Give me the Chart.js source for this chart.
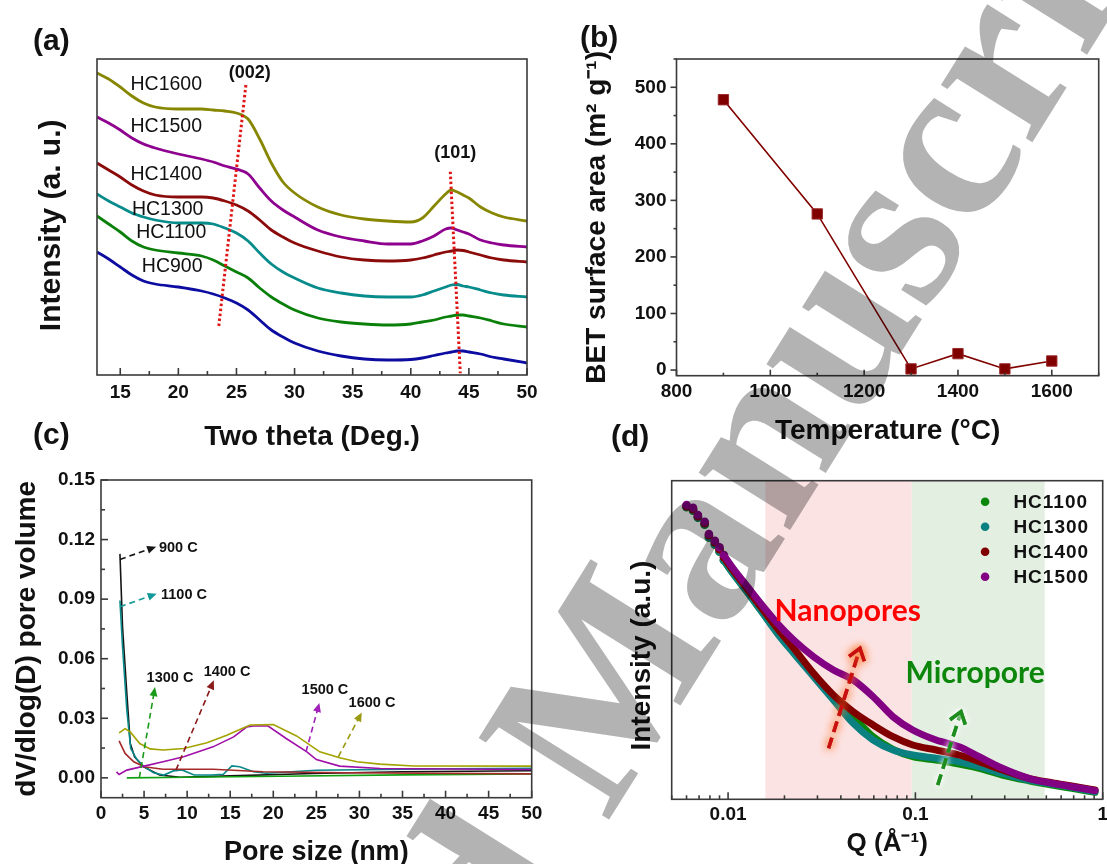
<!DOCTYPE html>
<html>
<head>
<meta charset="utf-8">
<title>Hard carbon characterisation</title>
<script src="https://cdn.jsdelivr.net/npm/chart.js"></script>
<style>
  html, body { margin: 0; padding: 0; background: #fff; }
  #fig { position: relative; width: 1107px; height: 864px; overflow: hidden; background: #fff; }
  .panel { position: absolute; }
  .panel canvas { display: block; }
  .tag { position: absolute; font: bold 30px "Liberation Sans", Arial, sans-serif; color: #111; line-height: 1; }
  #mark { position: absolute; left: 0; top: 0; pointer-events: none; mix-blend-mode: multiply; }
</style>
</head>
<body>
<div id="fig">
  <div class="panel" style="left:0;top:0"><canvas id="chartXrd" width="553" height="460"></canvas></div>
  <div class="panel" style="left:553px;top:0"><canvas id="chartBet" width="554" height="460"></canvas></div>
  <div class="panel" style="left:0;top:460px"><canvas id="chartPore" width="553" height="404"></canvas></div>
  <div class="panel" style="left:553px;top:460px"><canvas id="chartSaxs" width="554" height="404"></canvas></div>

  <div class="tag" style="left:33px;top:25px">(a)</div>
  <div class="tag" style="left:580px;top:22px">(b)</div>
  <div class="tag" style="left:33px;top:419px">(c)</div>
  <div class="tag" style="left:611px;top:421px">(d)</div>

  <svg id="mark" width="1107" height="864" viewBox="0 0 1107 864">
    <g transform="translate(607 823) rotate(-58)" font-family="'Liberation Serif', 'DejaVu Serif', serif" font-weight="bold" font-size="235" fill="#b3b3b3">
      <text x="-59" y="0" text-anchor="end">Accepted</text>
      <text x="0" y="0">Manuscript</text>
    </g>
  </svg>
</div>

<script>
// ---------------- (a) XRD patterns, intensity offset per sample ----------------
const xrdTheta = [13, 14, 15, 16, 17, 18, 20, 22, 23, 24, 25, 26, 27, 28, 29, 30, 32, 34, 36, 38, 40, 41, 42, 43, 43.5, 44, 44.5, 45, 46, 47, 48, 50];
const xrdHC1600 = [302, 296, 288, 279, 272, 268, 266, 266, 265, 264, 262, 256, 236, 212, 193, 182, 168, 160, 156, 154, 153, 157, 169, 181, 185, 183, 180, 177, 168, 162, 158, 154];
const xrdHC1500 = [258, 252, 245, 237, 231, 227, 221, 216, 213, 209, 206, 201, 187, 174, 165, 158, 145, 138, 134, 131, 131, 134, 139, 146, 147, 145, 143, 141, 135, 132, 130, 128];
const xrdHC1400 = [212, 205, 198, 190, 184, 180, 178, 178, 177, 174, 170, 164, 155, 145, 138, 132, 124, 118, 115, 114, 115, 117, 120, 123, 124, 125, 124.5, 123, 120, 117, 115, 113];
const xrdHC1300 = [181, 174, 168, 162, 158, 155, 152, 152, 151, 147, 142, 134, 122, 111, 103, 97, 87, 82, 79, 78, 78, 80, 84, 88, 90, 90.5, 89, 88, 85, 82, 80, 78];
const xrdHC1100 = [159, 151, 143, 134, 128, 125, 122, 119, 115, 109, 103, 97, 87, 78, 71, 65, 57, 53, 51, 50, 51, 53, 55, 58, 59, 60, 60, 59, 57, 54, 51, 48];
const xrdHC900  = [123, 116, 108, 100, 94, 91, 88, 84, 81, 77, 72, 65, 55, 45, 38, 32, 24, 19, 16, 15, 15.5, 17, 19.5, 22, 23, 24, 24, 23, 21, 18, 16, 12];
const xrdSamples = ['HC1600', 'HC1500', 'HC1400', 'HC1300', 'HC1100', 'HC900'];
const xrdLabelTheta = [18.96, 18.96, 18.96, 19.08, 19.39, 19.47];
const xrdLabelLevel = [290, 248, 200, 165, 142, 108];
// guide lines through the (002) and (101) reflections
const peak002Theta = [25.81, 23.46];
const peak002Level = [290, 46.7];
const peak101Theta = [43.40, 44.26];
const peak101Level = [203.3, 1.7];
const peakNames = ['(002)', '(101)'];
const peakNameTheta = [26.14, 43.83];
const peakNameLevel = [302, 222];

// ---------------- (b) BET surface area ----------------
const betTemp = [900, 1100, 1300, 1400, 1500, 1600];
const betArea = [478, 276, 2, 29, 2, 16];

// ---------------- (c) pore size distribution ----------------
const pore900X  = [2.2, 2.5, 3.0, 3.4, 3.9, 4.9, 6.8, 9.2, 15, 24.6, 35, 50];
const pore900Y  = [0.1128, 0.0759, 0.0424, 0.0173, 0.0106, 0.0056, 0.0014, 0.0003, 0.0010, 0.0022, 0.0031, 0.0036];
const pore1100X = [2.2, 2.5, 3.0, 3.45, 4.1, 5.0, 6.1, 7.3, 8.4, 9.4, 10.8, 12.8, 14.2, 15.2, 16.1, 17.7, 19.2, 25, 36, 50];
const pore1100Y = [0.0893, 0.066, 0.034, 0.0148, 0.0097, 0.0056, 0.0026, 0.0014, 0.0035, 0.004, 0.0014, 0.0014, 0.0018, 0.006, 0.0056, 0.0031, 0.0023, 0.0038, 0.0044, 0.0048];
const pore1300X = [3.0, 10, 20.8, 35, 50];
const pore1300Y = [0.0, 0.0003, 0.0008, 0.0015, 0.002];
const pore1400X = [2.1, 2.8, 3.8, 5.0, 7.2, 13, 18.8, 28.5, 50];
const pore1400Y = [0.0186, 0.0123, 0.0081, 0.0056, 0.0043, 0.0043, 0.0031, 0.0026, 0.002];
const pore1500X = [1.8, 2.1, 3.0, 5.0, 7.2, 9.6, 13.0, 15.4, 16.9, 17.7, 19.4, 21.5, 23.9, 25.0, 27.7, 32.4, 50];
const pore1500Y = [0.003, 0.0017, 0.0039, 0.0059, 0.0081, 0.0106, 0.0156, 0.0206, 0.0256, 0.0261, 0.0261, 0.0198, 0.0131, 0.0092, 0.0059, 0.0047, 0.0042];
const pore1600X = [2.1, 2.8, 3.4, 4.5, 5.7, 7.2, 9.6, 12.3, 14.6, 17.3, 20.0, 22.7, 25.4, 27.7, 29.7, 32.4, 36.3, 50];
const pore1600Y = [0.0226, 0.0248, 0.0231, 0.0173, 0.0146, 0.014, 0.0148, 0.0177, 0.0215, 0.0266, 0.0269, 0.0211, 0.0131, 0.0101, 0.0081, 0.0069, 0.006, 0.0059];
const poreNames = ['900 C', '1100 C', '1300 C', '1400 C', '1500 C', '1600 C'];
const poreNameX = [6.73, 6.97, 8.01, 14.63, 26.0, 31.46];
const poreNameY = [0.1159, 0.0923, 0.0501, 0.0531, 0.0441, 0.0377];
const poreArrowFromX = [2.2, 2.2, 4.45, 8.7, 23.8, 27.55];
const poreArrowFromY = [0.110, 0.0862, 0.0, 0.0039, 0.0131, 0.0106];
const poreArrowToX = [6.4, 6.47, 6.27, 13.1, 25.35, 30.27];
const poreArrowToY = [0.1164, 0.0927, 0.0457, 0.0491, 0.0377, 0.0329];

// ---------------- (d) SAXS profiles ----------------
const saxsQ = [0.006, 0.0065, 0.0069, 0.0075, 0.0079, 0.0085, 0.009, 0.0095, 0.0108, 0.0127, 0.0149, 0.0183, 0.0224, 0.0286, 0.0365, 0.0466, 0.0595, 0.0759, 0.0968, 0.129, 0.171, 0.219, 0.291, 0.403, 0.536, 0.684, 0.91];
const saxsHC1100 = [292, 288.5, 281.5, 274.5, 261.5, 254.5, 247.5, 239, 224, 207, 189.3, 167, 147, 124, 101, 82.6, 62.6, 50, 42.6, 39.3, 35.3, 31, 24.3, 18.6, 14.3, 11, 7];
const saxsHC1300 = [292.6, 289, 282, 275, 262, 255, 248, 239.3, 224, 207, 189.3, 166, 146, 122.6, 99.3, 76, 59.3, 49.3, 44.3, 41, 37.6, 32.6, 26, 19.3, 15.3, 12, 7.6];
const saxsHC1400 = [293, 290, 283, 276, 264, 257, 250, 242, 227, 210, 192.6, 171, 151, 126, 104.3, 87.6, 74.3, 62.6, 54.3, 49.3, 44.3, 37.6, 29.3, 21, 16.6, 13.3, 9.3];
const saxsHC1500 = [294.3, 291.6, 284.3, 277.6, 265.3, 258.6, 252, 244.3, 229.3, 212.6, 196, 176, 159.3, 142.6, 129.3, 119.3, 102.6, 82.6, 69.3, 59.3, 52.6, 42.6, 31, 21, 16, 12.6, 8.6];
const saxsSamples = ['HC1100', 'HC1300', 'HC1400', 'HC1500'];
const saxsTickValues = [0.01, 0.1, 1];
const saxsTickLabels = ['0.01', '0.1', '1'];
// Q ranges of the nanopore and micropore scattering regions
const nanoporeRange = [0.0158, 0.0957];
const microporeRange = [0.0957, 0.49];
const saxsNotes = ['Nanopores', 'Micropore'];
const saxsNoteQ = [0.0435, 0.2085];
const saxsNoteLevel = [187.6, 126];
const saxsArrowFromQ = [0.0344, 0.1316];
const saxsArrowFromLevel = [51, 14.3];
const saxsArrowToQ = [0.0506, 0.1752];
const saxsArrowToLevel = [151, 87.6];

// ---------------- shared helpers ----------------
const SANS = '"Liberation Sans", Arial, sans-serif';
Chart.defaults.font.family = SANS;
Chart.defaults.color = '#111';
Chart.defaults.animation = false;
Chart.defaults.plugins.legend.display = false;
Chart.defaults.plugins.tooltip.enabled = false;

const pts = (xs, ys) => xs.map((x, i) => ({ x, y: ys[i] }));
const tickFont = { size: 19, weight: 'bold' };
const plain = v => String(v);
// trailing no-break spaces nudge a rotated axis title along its axis
const nudge = n => '\u00a0'.repeat(n);

// axis box with inward / outward tick marks
const frameTicks = {
  id: 'frameTicks',
  afterDatasetsDraw(chart, _args, o) {
    const { ctx, chartArea: a } = chart;
    ctx.save();
    ctx.strokeStyle = o.color || '#333';
    ctx.lineWidth = o.width || 1.5;
    for (const t of (o.marks || [])) {
      const s = chart.scales[t.axis];
      const lo = Math.min(s.min, s.max), hi = Math.max(s.min, s.max);
      let majors = [], minors = [];
      if (s.type === 'logarithmic') {
        for (let d = Math.floor(Math.log10(lo)); d <= Math.ceil(Math.log10(hi)); d++) {
          const m = Math.pow(10, d);
          if (m >= lo * 0.999 && m <= hi * 1.001) majors.push(m);
          for (let k = 2; k < 10; k++) { const v = k * m; if (v >= lo && v <= hi) minors.push(v); }
        }
      } else {
        majors = s.ticks.map(k => k.value);
        if (t.minor) {
          for (let i = Math.ceil((lo - 1e-9) / t.minor); i * t.minor <= hi + 1e-9; i++) {
            const v = i * t.minor;
            if (!majors.some(m => Math.abs(m - v) < t.minor * 1e-3)) minors.push(v);
          }
        }
      }
      const draw = (v, len) => {
        const p = s.getPixelForValue(v);
        ctx.beginPath();
        if (t.axis === 'x') { ctx.moveTo(p, a.bottom); ctx.lineTo(p, a.bottom - t.dir * len); }
        else { ctx.moveTo(a.left, p); ctx.lineTo(a.left + t.dir * len, p); }
        ctx.stroke();
      };
      majors.forEach(v => draw(v, t.len));
      minors.forEach(v => draw(v, t.minorLen));
    }
    ctx.strokeRect(a.left, a.top, a.right - a.left, a.bottom - a.top);
    ctx.restore();
  }
};

function drawArrow(ctx, x0, y0, x1, y1, st) {
  const ang = Math.atan2(y1 - y0, x1 - x0);
  const c = Math.cos(ang), s = Math.sin(ang);
  const hl = st.head, hw = st.headW;
  ctx.save();
  ctx.strokeStyle = st.color; ctx.fillStyle = st.color; ctx.lineWidth = st.width;
  ctx.lineCap = st.cap || 'butt';
  const passes = st.glow ? 2 : 1;
  for (let p = 0; p < passes; p++) {
    if (st.glow) { ctx.shadowColor = st.glow; ctx.shadowBlur = st.blur; }
    ctx.setLineDash(st.dash);
    const back = st.filled ? hl * 0.9 : st.width * 0.5;
    ctx.beginPath(); ctx.moveTo(x0, y0); ctx.lineTo(x1 - c * back, y1 - s * back); ctx.stroke();
    ctx.setLineDash([]);
    ctx.beginPath();
    ctx.moveTo(x1 - hl * c + hw * s, y1 - hl * s - hw * c);
    ctx.lineTo(x1, y1);
    ctx.lineTo(x1 - hl * c - hw * s, y1 - hl * s + hw * c);
    if (st.filled) { ctx.closePath(); ctx.fill(); } else { ctx.stroke(); }
  }
  ctx.restore();
}

// shaded Q bands, arrows and free labels placed in data coordinates
const notes = {
  id: 'notes',
  beforeDatasetsDraw(chart, _args, o) {
    const { ctx, chartArea: a } = chart;
    const xs = chart.scales.x;
    for (const b of (o.bands || [])) {
      const l = xs.getPixelForValue(b.from), r = xs.getPixelForValue(b.to);
      ctx.fillStyle = b.color;
      ctx.fillRect(l, a.top, r - l, a.bottom - a.top);
    }
  },
  afterDatasetsDraw(chart, _args, o) {
    const { ctx } = chart;
    const xs = chart.scales.x, ys = chart.scales.y;
    for (const ar of (o.arrows || [])) {
      drawArrow(ctx, xs.getPixelForValue(ar.x0), ys.getPixelForValue(ar.y0),
        xs.getPixelForValue(ar.x1), ys.getPixelForValue(ar.y1), ar);
    }
    for (const t of (o.texts || [])) {
      ctx.save();
      ctx.font = t.font; ctx.fillStyle = t.color;
      ctx.textAlign = t.align || 'center'; ctx.textBaseline = 'middle';
      ctx.fillText(t.text, xs.getPixelForValue(t.x), ys.getPixelForValue(t.y));
      ctx.restore();
    }
  }
};

// point legend in the upper right corner of the plot area
const dotLegend = {
  id: 'dotLegend',
  afterDraw(chart, _args, o) {
    if (!o.show) return;
    const { ctx, chartArea: a } = chart;
    ctx.save();
    ctx.font = o.font; ctx.textBaseline = 'middle'; ctx.textAlign = 'left';
    if ('letterSpacing' in ctx) ctx.letterSpacing = o.spacing;
    chart.data.datasets.forEach((ds, i) => {
      const y = a.top + o.top + i * o.step;
      ctx.beginPath();
      ctx.fillStyle = ds.borderColor;
      ctx.arc(a.right - o.markFromRight, y, o.radius, 0, Math.PI * 2);
      ctx.fill();
      ctx.fillStyle = '#111';
      ctx.fillText(ds.label, a.right - o.textFromRight, y + 1);
    });
    ctx.restore();
  }
};

const fixW = w => s => { s.width = w; s.paddingTop = 0; s.paddingBottom = 0; };
const fixH = h => s => { s.height = h; s.paddingLeft = 0; s.paddingRight = 0; };
const noGrid = { display: false, drawTicks: false };
const noBorder = { display: false };

// ---------------- (a) ----------------
const xrdSeries = [xrdHC1600, xrdHC1500, xrdHC1400, xrdHC1300, xrdHC1100, xrdHC900];
const xrdColors = ['#868600', '#8e008e', '#8b0a0a', '#078b8b', '#0a800a', '#0c0ca0'];
new Chart(document.getElementById('chartXrd'), {
  type: 'line',
  data: {
    datasets: [
      ...xrdSeries.map((ys, i) => ({
        label: xrdSamples[i], data: pts(xrdTheta, ys), borderColor: xrdColors[i],
        borderWidth: 2.8, pointRadius: 0, cubicInterpolationMode: 'monotone', order: 2
      })),
      { label: peakNames[0], data: pts(peak002Theta, peak002Level), borderColor: '#e01515', borderWidth: 3, borderDash: [2.5, 2.5], pointRadius: 0, order: 0 },
      { label: peakNames[1], data: pts(peak101Theta, peak101Level), borderColor: '#e01515', borderWidth: 3, borderDash: [2.5, 2.5], pointRadius: 0, order: 0 }
    ]
  },
  options: {
    responsive: false,
    layout: { padding: { top: 59, right: 26, left: 0, bottom: 0 } },
    scales: {
      x: {
        type: 'linear', min: 13, max: 50,
        ticks: { stepSize: 5, includeBounds: false, padding: 6, font: tickFont, color: '#111', maxRotation: 0, callback: plain },
        grid: noGrid, border: noBorder, afterFit: fixH(85),
        title: { display: true, text: 'Two theta (Deg.)', font: { size: 28, weight: 'bold' }, color: '#111', padding: { top: 0, bottom: 6 } }
      },
      y: {
        min: 0, max: 316,
        ticks: { display: false }, grid: noGrid, border: noBorder, afterFit: fixW(97),
        title: { display: true, text: 'Intensity (a. u.)' + nudge(2), font: { size: 30, weight: 'bold' }, color: '#111', padding: { top: 34, bottom: 0 } }
      }
    },
    plugins: {
      frameTicks: { color: '#3a3a3a', width: 1.6, marks: [{ axis: 'x', dir: 1, len: 7, minor: 2.5, minorLen: 4 }] },
      notes: {
        texts: [
          ...xrdSamples.map((n, i) => ({ text: n, x: xrdLabelTheta[i], y: xrdLabelLevel[i], font: '19.5px ' + SANS, color: '#111' })),
          ...peakNames.map((n, i) => ({ text: n, x: peakNameTheta[i], y: peakNameLevel[i], font: 'bold 18px ' + SANS, color: '#111' }))
        ]
      }
    }
  },
  plugins: [frameTicks, notes]
});

// ---------------- (b) ----------------
new Chart(document.getElementById('chartBet'), {
  type: 'line',
  data: {
    datasets: [{
      label: 'BET', data: pts(betTemp, betArea), borderColor: '#800000', borderWidth: 1.6,
      pointStyle: 'rect', pointRadius: 7.3, pointBackgroundColor: '#800000', pointBorderColor: '#9a2a2a', pointBorderWidth: 1
    }]
  },
  options: {
    responsive: false,
    layout: { padding: { top: 59, right: 1.3, left: 0, bottom: 0 } },
    scales: {
      x: {
        type: 'linear', min: 800, max: 1700,
        ticks: { stepSize: 200, includeBounds: false, padding: 4.6, font: tickFont, color: '#111', maxRotation: 0, callback: plain },
        grid: noGrid, border: noBorder, afterFit: fixH(84.3),
        title: { display: true, text: 'Temperature (°C)', font: { size: 28, weight: 'bold' }, color: '#111', padding: { top: 0, bottom: 11.5 } }
      },
      y: {
        min: -10, max: 550,
        ticks: { stepSize: 100, includeBounds: false, padding: 10, font: tickFont, color: '#111', callback: plain },
        grid: noGrid, border: noBorder, afterFit: fixW(123.5),
        title: { display: true, text: 'BET surface area (m² g⁻¹)', font: { size: 28, weight: 'bold' }, color: '#111', padding: { top: 27, bottom: 0 } }
      }
    },
    plugins: {
      frameTicks: {
        color: '#3a3a3a', width: 1.6,
        marks: [
          { axis: 'x', dir: 1, len: 6, minor: 100, minorLen: 3 },
          { axis: 'y', dir: -1, len: 6, minor: 50, minorLen: 3 }
        ]
      }
    }
  },
  plugins: [frameTicks]
});

// ---------------- (c) ----------------
const poreSeries = [[pore900X, pore900Y], [pore1100X, pore1100Y], [pore1300X, pore1300Y], [pore1400X, pore1400Y], [pore1500X, pore1500Y], [pore1600X, pore1600Y]];
const poreColors = ['#151515', '#0a8a8a', '#10a010', '#a52a2a', '#a010a8', '#a3a300'];
const poreArrowColors = ['#151515', '#129a9a', '#1a9a1a', '#8b1a1a', '#a020b8', '#9a9a10'];
const poreOrder = [7, 6, 5, 4, 3, 2];
new Chart(document.getElementById('chartPore'), {
  type: 'line',
  data: {
    datasets: poreSeries.map((s, i) => ({
      label: poreNames[i], data: pts(s[0], s[1]), borderColor: poreColors[i],
      borderWidth: 1.6, pointRadius: 0, tension: 0, order: poreOrder[i]
    }))
  },
  options: {
    responsive: false,
    layout: { padding: { top: 20, right: 21.3, left: 0, bottom: 0 } },
    scales: {
      x: {
        type: 'linear', min: 0, max: 50,
        ticks: { stepSize: 5, includeBounds: false, padding: 4.2, font: tickFont, color: '#111', maxRotation: 0, callback: plain },
        grid: noGrid, border: noBorder, afterFit: fixH(66.3),
        title: { display: true, text: 'Pore size (nm)', font: { size: 27, weight: 'bold' }, color: '#111', padding: { top: 0, bottom: -5 } }
      },
      y: {
        min: -0.01, max: 0.15,
        ticks: { stepSize: 0.03, includeBounds: false, padding: 6, font: tickFont, color: '#111', callback: v => Number(v).toFixed(2) },
        grid: noGrid, border: noBorder, afterFit: fixW(101),
        title: { display: true, text: 'dV/dlog(D) pore volume', font: { size: 28, weight: 'bold' }, color: '#111', padding: { top: 10, bottom: 0 } }
      }
    },
    plugins: {
      frameTicks: {
        color: '#3a3a3a', width: 1.6,
        marks: [
          { axis: 'x', dir: 1, len: 7, minor: 2.5, minorLen: 4 },
          { axis: 'y', dir: 1, len: 7, minor: 0.015, minorLen: 4 }
        ]
      },
      notes: {
        arrows: poreNames.map((n, i) => ({
          x0: poreArrowFromX[i], y0: poreArrowFromY[i], x1: poreArrowToX[i], y1: poreArrowToY[i],
          color: poreArrowColors[i], width: 1.6, dash: [6, 4], head: 9, headW: 4, filled: true
        })),
        texts: poreNames.map((n, i) => ({
          text: n, x: poreNameX[i], y: poreNameY[i], font: 'bold 14.5px ' + SANS, color: '#111',
          align: i < 2 ? 'left' : 'center'
        }))
      }
    }
  },
  plugins: [frameTicks, notes]
});

// ---------------- (d) ----------------
const saxsSeries = [saxsHC1100, saxsHC1300, saxsHC1400, saxsHC1500];
const saxsColors = ['#0a870a', '#0a8080', '#800000', '#820082'];
const saxsOrder = [4, 3, 2, 1];
new Chart(document.getElementById('chartSaxs'), {
  type: 'line',
  data: {
    datasets: saxsSeries.map((ys, i) => ({
      label: saxsSamples[i], data: pts(saxsQ, ys), borderColor: saxsColors[i],
      borderWidth: 7, borderCapStyle: 'round', borderJoinStyle: 'round',
      cubicInterpolationMode: 'monotone', order: saxsOrder[i],
      pointRadius: c => (c.parsed && c.parsed.x < 0.0098 ? 4.3 : 0),
      pointBackgroundColor: saxsColors[i], pointBorderWidth: 0,
      segment: { borderColor: c => (c.p0.parsed.x < 0.0094 ? 'rgba(0,0,0,0)' : undefined) }
    }))
  },
  options: {
    responsive: false,
    layout: { padding: { top: 20.7, right: 2.7, left: 0, bottom: 0 } },
    scales: {
      x: {
        type: 'logarithmic', min: 0.005, max: 1,
        ticks: {
          autoSkip: false, padding: 4.3, font: tickFont, color: '#111', maxRotation: 0,
          callback: v => {
            const k = saxsTickValues.findIndex(t => Math.abs(Math.log10(t) - Math.log10(v)) < 1e-6);
            return k >= 0 ? saxsTickLabels[k] : '';
          }
        },
        grid: noGrid, border: noBorder, afterFit: fixH(64.7),
        title: { display: true, text: 'Q (Å⁻¹)', font: { size: 26, weight: 'bold' }, color: '#111', padding: { top: 0, bottom: 5 } }
      },
      y: {
        min: 0, max: 318.6,
        ticks: { display: false }, grid: noGrid, border: noBorder, afterFit: fixW(118.7),
        title: { display: true, text: 'Intensity (a.u.)' + nudge(4), font: { size: 28, weight: 'bold' }, color: '#111', padding: { top: 72, bottom: 0 } }
      }
    },
    plugins: {
      frameTicks: { color: '#3a3a3a', width: 1.6, marks: [{ axis: 'x', dir: 1, len: 7, minorLen: 4 }] },
      notes: {
        bands: [
          { from: nanoporeRange[0], to: nanoporeRange[1], color: '#fce3e3' },
          { from: microporeRange[0], to: microporeRange[1], color: '#e3efe1' }
        ],
        arrows: [
          { x0: saxsArrowFromQ[0], y0: saxsArrowFromLevel[0], x1: saxsArrowToQ[0], y1: saxsArrowToLevel[0],
            color: '#c81010', width: 3.5, dash: [11, 6], head: 11, headW: 8, filled: false, glow: 'rgba(255,120,40,0.95)', blur: 9 },
          { x0: saxsArrowFromQ[1], y0: saxsArrowFromLevel[1], x1: saxsArrowToQ[1], y1: saxsArrowToLevel[1],
            color: '#1c8c1c', width: 3.5, dash: [11, 6], head: 11, headW: 8, filled: false, glow: 'rgba(255,255,255,0.9)', blur: 6 }
        ],
        texts: [
          { text: saxsNotes[0], x: saxsNoteQ[0], y: saxsNoteLevel[0], font: 'bold 30px Lato, ' + SANS, color: '#ff0000' },
          { text: saxsNotes[1], x: saxsNoteQ[1], y: saxsNoteLevel[1], font: 'bold 30px Lato, ' + SANS, color: '#0c870c' }
        ]
      },
      dotLegend: { show: true, font: 'bold 19px ' + SANS, spacing: '1px', top: 21, step: 25, radius: 4.3, markFromRight: 117.6, textFromRight: 89.3 }
    }
  },
  plugins: [notes, frameTicks, dotLegend]
});
</script>
</body>
</html>
